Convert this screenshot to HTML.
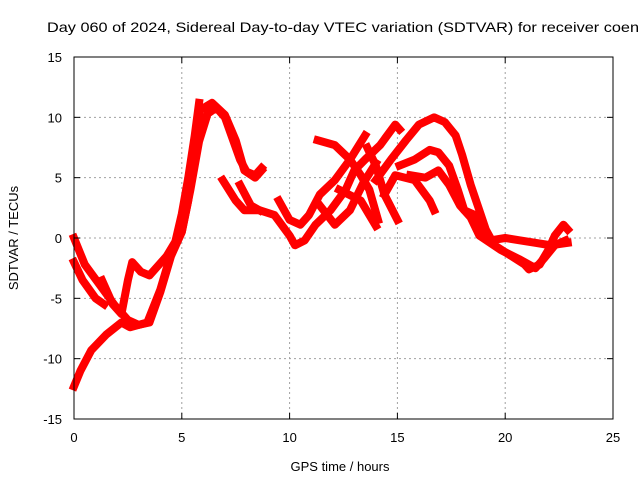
<!DOCTYPE html>
<html><head><meta charset="utf-8"><style>
body{margin:0;background:#fff;overflow:hidden}
svg{display:block;font-family:"Liberation Sans",sans-serif;font-size:13px}
</style></head><body>
<svg id="c" width="640" height="480">
<text x="47" y="32" font-size="14" textLength="592" lengthAdjust="spacingAndGlyphs">Day 060 of 2024, Sidereal Day-to-day VTEC variation (SDTVAR) for receiver coen</text>
<g id="grid"></g><g id="plot"></g><g id="axes"></g>
<text x="340" y="471" text-anchor="middle">GPS time / hours</text>
<text transform="translate(18,238) rotate(-90)" text-anchor="middle">SDTVAR / TECUs</text>
</svg>
<script>
const xTicks=[0,5,10,15,20,25];
const yTicks=[-15,-10,-5,0,5,10,15];
const track1=[[0,-12.3],[0.3,-11],[0.8,-9.3],[1.5,-8],[2.2,-7],[2.6,-7.4],[3.4,-7],[4,-4.3],[4.45,-1.6],[5,0.5],[5.3,3.1],[5.6,7.3],[5.85,10.6],[6.4,11.2],[7,10.2],[7.5,8.1],[7.9,5.6],[8.4,5],[8.7,5.6]];
const track2=[[0,0],[0.5,-2.2],[1.2,-3.9],[1.9,-5.6],[2.5,-6.8],[3,-7.2],[3.5,-7],[4,-4.5],[4.5,-1.5],[5,0.5],[5.4,4],[5.8,8],[6.2,10.3],[6.6,10.8],[7,10],[7.3,8.5],[7.7,6.5],[8,5.5],[8.4,5.2],[8.7,5.8]];
const track3=[[0,-2],[0.4,-3.5],[1,-5],[1.4,-5.5]];
const track4=[[1.3,-3.5],[1.8,-5.5],[2.2,-6.3],[2.5,-3.5],[2.7,-2],[3.1,-2.8],[3.5,-3.1],[3.9,-2.3],[4.3,-1.5],[4.7,-0.3],[5,2],[5.3,5],[5.6,8.5],[5.8,11.2]];
const track5=[[6.9,4.8],[7.5,3.1],[7.9,2.3],[8.6,2.3],[9.3,1.9],[10,0.2],[10.25,-0.6],[10.7,-0.2],[11.2,1.1],[11.9,2.3],[12.6,4],[13,5.6],[13.5,6.5],[14.2,7.7],[14.9,9.4],[15.1,9]];
const track6=[[7.7,4.4],[8.2,2.7],[8.6,2.3]];
const track7=[[9.5,3.1],[10,1.5],[10.5,1.1],[10.9,1.9],[11.4,3.6],[12.1,4.8],[12.8,6.5],[13.5,8.5]];
const track8=[[11.3,8.1],[12.1,7.7],[12.8,6.5],[13.3,5.2],[13.7,4],[14.1,1.5]];
const track9=[[14,4.8],[14.7,6.5],[15.4,8.1],[16,9.4],[16.7,10],[17.2,9.6],[17.7,8.5],[18,6.9],[18.4,4.4],[18.8,2.3],[19.1,0.7],[19.5,-0.6],[20.2,-1.4],[20.9,-2.2],[21.1,-2.6],[21.6,-2.2],[22,-1],[22.3,0.2],[22.7,1.1],[22.9,0.7]];
const track10=[[15.1,6],[15.8,6.5],[16.5,7.3],[16.9,7.1],[17.4,6],[17.8,4],[18.1,2.3],[18.6,1.9],[18.9,1.1],[19.3,-0.2],[20,0],[20.7,-0.2],[21.4,-0.4],[22.1,-0.6],[22.9,-0.4]];
const track11=[[15.6,5.2],[16.3,5],[16.9,5.6],[17.4,4.4],[17.9,2.7],[18.4,1.7],[18.8,0.2],[19.8,-1],[20.7,-1.8],[21.4,-2.5],[21.8,-1.7],[22.3,-0.6],[22.8,-0.2]];
const track12=[[12.3,4],[13.3,3.1],[14,1]];
const track13=[[11.4,2.7],[12.1,1.1],[12.8,2.3],[13.4,4.5],[14,6.2]];
const track14=[[14.4,3.6],[14.9,5.2],[15.8,4.8],[16.5,3.1],[16.7,2.3]];
const track15=[[15,1.5],[14.4,3.6],[14,6],[13.6,7.5]];
const tracks=[track1,track2,track3,track4,track5,track6,track7,track8,track9,track10,track11,track12,track13,track14,track15];
const X=v=>74+v*(613-74)/25, Y=v=>238-v*(362/30);
const NS="http://www.w3.org/2000/svg";
function mk(t,a,p){const e=document.createElementNS(NS,t);for(const k in a)e.setAttribute(k,a[k]);p.appendChild(e);return e;}
const grid=document.getElementById('grid'),axes=document.getElementById('axes'),plot=document.getElementById('plot');
xTicks.forEach(v=>{
 if(v>0&&v<25){const l=mk('line',{x1:X(v),x2:X(v),y1:57,y2:419,stroke:'#a0a0a0','stroke-dasharray':'2,3'},grid);
 
 }
 const t=mk('text',{x:X(v),y:442,'text-anchor':'middle'},axes);t.textContent=v;
 
 
 mk('line',{x1:X(v),x2:X(v),y1:419,y2:413,stroke:'#000'},axes);
 mk('line',{x1:X(v),x2:X(v),y1:57,y2:63,stroke:'#000'},axes);
});
yTicks.forEach(v=>{
 if(v>-15&&v<15){const l=mk('line',{x1:74,x2:613,y1:Y(v),y2:Y(v),stroke:'#a0a0a0','stroke-dasharray':'2,3'},grid);
 
 }
 const t=mk('text',{x:62,y:Y(v)+5,'text-anchor':'end'},axes);t.textContent=v;
 
 
 mk('line',{x1:74,x2:80,y1:Y(v),y2:Y(v),stroke:'#000'},axes);
 mk('line',{x1:613,x2:607,y1:Y(v),y2:Y(v),stroke:'#000'},axes);
});
const fr=mk('rect',{x:74,y:57,width:539,height:362,fill:'none',stroke:'#000'},axes);


tracks.forEach((tr,i)=>{
 const p=mk('polyline',{points:tr.map(d=>X(d[0])+','+Y(d[1])).join(' '),fill:'none',stroke:'#ff0000','stroke-width':8,'stroke-linejoin':'round','stroke-linecap':'square'},plot);
 
 
});
</script>
</body></html>
